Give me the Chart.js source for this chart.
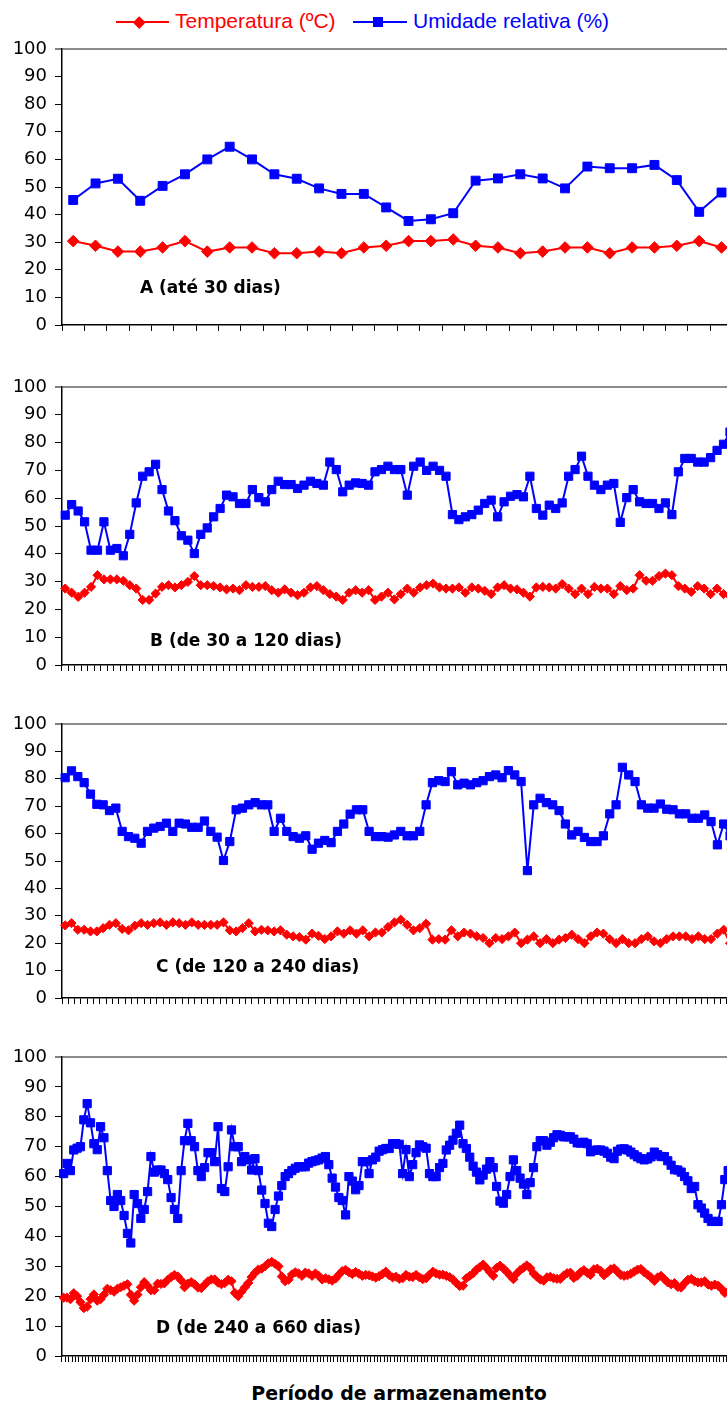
<!DOCTYPE html>
<html>
<head>
<meta charset="utf-8">
<script src="https://cdn.jsdelivr.net/npm/chart.js@4"></script>
<style>
html,body{margin:0;padding:0;width:727px;height:1405px;overflow:hidden;background:#fff;}
.panel{position:absolute;left:0;}
.lbl{position:absolute;font:bold 17px 'DejaVu Sans';line-height:20px;white-space:nowrap;color:#000;}
.leg{position:absolute;font:21px 'Liberation Sans',Arial;line-height:21px;white-space:nowrap;top:9.5px;}
.xt{position:absolute;left:0;width:798px;text-align:center;font:bold 19px 'DejaVu Sans';line-height:22px;top:1382px;color:#000;white-space:nowrap;}
</style>
</head>
<body>
<!-- legend -->
<div style="position:absolute;left:116px;top:21px;width:53px;height:2px;background:#ff0000"></div>
<div style="position:absolute;left:135px;top:17.5px;width:8.5px;height:8.5px;background:#ff0000;transform:rotate(45deg)"></div>
<div class="leg" style="left:175px;color:#ff0000">Temperatura (ºC)</div>
<div style="position:absolute;left:353px;top:21px;width:54px;height:2px;background:#0000ff"></div>
<div style="position:absolute;left:373px;top:17px;width:9.5px;height:9.5px;background:#0000ff"></div>
<div class="leg" style="left:413px;color:#0000ff">Umidade relativa (%)</div>

<div class="panel" style="top:37px;width:740px;height:300px"><canvas id="cA" width="740" height="300"></canvas></div>
<div class="panel" style="top:375px;width:740px;height:302px"><canvas id="cB" width="740" height="302"></canvas></div>
<div class="panel" style="top:712px;width:740px;height:298px"><canvas id="cC" width="740" height="298"></canvas></div>
<div class="panel" style="top:1045px;width:740px;height:323px"><canvas id="cD" width="740" height="323"></canvas></div>

<div class="lbl" style="left:140px;top:277px">A (até 30 dias)</div>
<div class="lbl" style="left:150px;top:630px">B (de 30 a 120 dias)</div>
<div class="lbl" style="left:156px;top:956px">C (de 120 a 240 dias)</div>
<div class="lbl" style="left:156px;top:1317px">D (de 240 a 660 dias)</div>

<div class="xt">Período de armazenamento</div>

<script>
// ---------- DATA ----------
const seriesNames = ['Temperatura (ºC)', 'Umidade relativa (%)'];
const yTicks = [0, 10, 20, 30, 40, 50, 60, 70, 80, 90, 100];

// A (até 30 dias)
const tempA = [30.4,28.7,26.6,26.6,28.1,30.4,26.6,28.1,28.1,26,26,26.6,26,28.1,28.7,30.4,30.4,31,28.7,28.1,26,26.6,28.1,28.1,26,28.1,28.1,28.7,30.4,28.1];
const umidA = [45.3,51.3,53,45,50.4,54.6,60,64.6,60,54.6,53,49.5,47.5,47.5,42.6,37.7,38.3,40.5,52.3,53.1,54.6,53.1,49.5,57.4,56.8,56.8,58,52.5,41,48];

// B (de 30 a 120 dias)
const tempB = [27.5,26,24.5,26,28.1,32.3,30.8,30.8,30.8,30.3,28.7,27.5,23.4,23.4,25.7,28.1,28.7,27.9,28.7,29.9,
  32,28.7,28.7,28.4,27.9,27.2,27.5,26.9,28.7,28.1,28.1,28.4,26.9,26,27.2,26,25.1,26,27.9,28.4,
  26.9,25.5,24.6,23.4,26,26.9,26,26.9,
  23.4,24.6,26,23.6,25.5,27.5,26,27.9,28.7,29.3,27.9,27.5,27.5,27.9,26,27.9,27.5,26.7,25.5,27.9,
  28.7,27.5,27.2,26,24.6,27.9,28.1,27.9,27.5,29.1,27.5,25.5,27.5,25.5,28.1,27.5,27.5,25.5,28.4,26.9,
  27.5,32.3,30.3,30.3,32,32.9,32.3,28.4,27.5,26.3,28.4,27.5,25.5,27.5,25.5,24.8];
const umidB = [53.9,57.7,55.4,51.5,41.3,41.3,51.5,41.3,41.9,39.3,47,58.3,67.9,69.5,72.2,63.1,55.4,51.9,46.5,44.9,
  40.1,47,49.3,53.3,56.3,61.1,60.5,58.1,58.1,63.1,60.2,58.7,63.1,66.1,64.9,64.9,63.5,64.7,66.1,65.3,
  64.7,73,70.3,62.3,64.7,65.5,65.3,64.7,
  69.5,70.3,71.5,70.3,70.3,61.1,71.5,73,70,71.5,70,67.9,54.1,52.3,53.3,54.1,55.7,58.1,59.3,53.3,
  58.7,60.7,61.3,60.5,67.9,56.3,53.9,57.5,56.3,58.3,67.9,70.3,75.1,67.9,64.7,63.1,64.7,65.3,51.3,60.2,
  63.1,58.7,58.1,58.1,56.3,58.3,54.1,69.5,74.3,74.3,73,73,74.6,77.2,79.4,83.8];

// C (de 120 a 240 dias)
const tempC = [26.5,27.3,24.9,24.9,24.3,24.3,25.5,26.7,27.3,25.2,24.7,26.4,27.3,26.7,27.3,27.6,26.7,27.6,27.3,26.7,
  27.6,26.7,26.7,26.7,26.7,27.6,24.7,24.3,25.5,27.3,24.3,24.9,24.7,24.3,24.7,23.1,22.5,22.2,21.3,23.5,
  22.7,21.5,22.5,24.3,23.5,24.7,23.5,24.7,22.5,
  23.9,23.9,25.9,27.6,28.6,26.7,24.7,25.5,27.1,21.3,21.5,21.3,24.7,22.5,23.9,23.5,22.5,21.9,20,
  21.9,21.5,22.5,23.9,20,21.3,22.5,20,21.5,20,21.3,21.9,23.1,21.5,20,22.5,23.9,23.5,21.5,20,
  21.5,20,20,21.5,22.5,20.7,20,21.5,22.5,22.5,22.5,21.5,22.5,21.5,21.5,23.5,24.9,20];
const umidC = [80.4,82.9,80.8,78.6,74.4,70.7,70.5,68.4,69.3,60.8,58.9,58.3,56.5,60.8,62,62.6,63.8,60.8,63.8,63.5,
  62.3,62.3,64.6,60.8,58.7,50.2,57.1,68.7,69.3,70.5,71.3,70.5,70.5,60.8,65.6,60.8,58.9,58.3,59.2,54.3,
  56.5,57.5,56.7,60.8,63.5,67.1,68.7,68.7,60.8,
  58.9,58.9,58.7,59.5,60.8,59.2,59.2,60.8,70.5,78.6,79.3,79,82.6,77.8,78.4,77.8,78.6,79.3,80.8,81.4,
  80.4,83,81.4,79,46.5,70.5,72.9,71.3,70.5,68.4,63.5,59.5,60.8,58.6,57.1,57.1,59.2,67.2,70.5,84.2,
  81.4,79,70.5,69.3,69.3,70.8,68.9,68.7,67.2,67.2,65.6,65.6,66.8,64.4,55.9,63.5,59.2];

// D (de 240 a 660 dias)
const tempD = [19.5,19.5,19,21,20,18,16,16.5,19,20.6, 18.5,19,20.5,22.5,22,21.5,22.5,23,23.5,24,
  20.5,18.5,20.5,23,24.7,23.5,22,22,24.2,24.1, 24.3,25.5,26.4,27.1,26.6,25.3,23,24.2,24.7,24,
  22.9,22.7,23.8,25,25.6,25.6,24.5,24,24.4,25.5, 25,21.1,20,21.5,23,24.4,26.4,27.8,28.9,29.2,
  30,31,31.5,30.8,30,26.6,25,25.5,27.3,28, 27.6,26.8,27.9,27.6,26.8,27.6,26.8,25.6,26,25.6,
  25.2,25.9,27.2,28.4,28.8,28,27.4,28.1,27.5,26.8, 27.1,27,26.6,26.2,26.7,27.4,28.2,27,26.3,26.5,
  25.8,26,27.1,26.5,26.4,27.1,26.3,25.7,26,27.2, 28.2,27.6,27.2,27.2,26.8,26.4,25.6,24.4,23.4,23.5,
  26,26.8,27.6,28.9,29.7,30.6,29.4,28.1,26.8,29.5, 30.2,29.3,28.2,26.9,25.7,27.6,28.7,29.5,30.3,29.4,
  27.6,26.5,25.6,25.2,26.3,26.5,26,25.8,25.8,26.9, 27.7,27.9,26.1,26.8,28,28.7,27.8,27.1,29,29.2,
  28.5,27,27.9,29,29.3,28.2,27.1,26.8,27,27.5, 28.2,28.9,29.1,28,27.2,26.3,25.1,26.3,26.8,25.7,
  24.6,24,24.4,23.1,22.9,24.3,25.5,25.8,25,24.6, 24.6,25,23.9,23.5,23.9,23.5,22.5,21.1,21.5,22];
const umidD = [61,64.4,62,68.9,69.5,70,79,84.4,78,71, 69,76.7,73,62,52,50,54,52,47,41,
  37.8,54,51,46,49,55,66.7,61.5,62.2,62.2, 61,59,53,49,46,62,72,77.8,72,70,
  62,60,63,68,68,65,76.7,56,55,63.3, 75.6,70,70,65,66.7,65.6,62.2,66,62,55.5,
  51,44.4,43.3,49,53.5,57,60,61,62,62.8, 63.3,63.3,63.3,64.5,65,65.3,65.6,66.2,66.7,64,
  59.5,56.5,53,52,47.2,60,58.5,55.6,57,65, 65,61,65.6,66.5,68.5,69,69.4,69.4,71,71,
  70.8,61,69,60,64,68,70.6,70,69.5,61, 60,60,63,64.4,68.9,70.5,72.2,74.5,77.2,71,
  69.4,66.5,63.5,61.5,58.9,60.5,62.5,65,63,56.7, 51.8,51.1,54,60,65.6,62,59.5,57.5,54,58,
  63,70,72,72,70.5,71.5,73,74,73.8,73.3, 73.3,73.3,72.5,71.3,71.2,71.5,71,68.3,68.8,68.9,
  68.9,68.5,67.8,66.5,66,68.5,69.2,69.3,68.9,68.2, 67.3,66.6,66,65.6,65.9,66.6,68.2,67.3,66.7,66.7,
  65.3,63.8,62.3,62.2,61.5,60,58.6,56,56.7,50.6, 49.5,47.8,46,45,45,45,50.6,59,62,63];

// ---------- CHARTS ----------
const RED = '#ff0000', BLUE = '#0000ff';

function makeChart(id, temp, umid, diamondR, squareR) {
  const cats = temp.map((_, i) => String(i + 1));
  return new Chart(document.getElementById(id), {
    type: 'line',
    data: {
      labels: cats,
      datasets: [
        { label: seriesNames[0], data: temp, borderColor: RED, backgroundColor: RED,
          borderWidth: 2, tension: 0, pointStyle: 'rectRot', pointRadius: diamondR,
          pointBackgroundColor: RED, pointBorderColor: RED, pointBorderWidth: 1 },
        { label: seriesNames[1], data: umid, borderColor: BLUE, backgroundColor: BLUE,
          borderWidth: 2, tension: 0, pointStyle: 'rect', pointRadius: squareR,
          pointBackgroundColor: BLUE, pointBorderColor: BLUE, pointBorderWidth: 1 }
      ]
    },
    options: {
      responsive: false,
      devicePixelRatio: 1,
      animation: false,
      events: [],
      layout: { padding: { top: 12, left: 0, right: 6, bottom: 0 } },
      plugins: { legend: { display: false }, tooltip: { enabled: false } },
      scales: {
        x: {
          type: 'category',
          offset: true,
          grid: { offset: true, drawOnChartArea: false, color: '#000', tickLength: 6, lineWidth: 1 },
          border: { color: '#000', width: 1.5 },
          ticks: { display: false, autoSkip: false },
          afterFit: s => { s.height = 12; s.paddingLeft = 0; s.paddingRight = 0; }
        },
        y: {
          min: 0, max: 100,
          afterBuildTicks: s => { s.ticks = yTicks.map(v => ({ value: v })); },
          grid: {
            drawOnChartArea: true,
            color: c => (c.tick && c.tick.value === 100) ? '#8c8c8c' : 'rgba(0,0,0,0)',
            lineWidth: c => (c.tick && c.tick.value === 100) ? 2 : 1,
            tickColor: '#000', tickWidth: 1, tickLength: 7
          },
          border: { color: '#000', width: 1.5 },
          ticks: { color: '#000', padding: 8, font: { family: 'DejaVu Sans', size: 18 } },
          afterFit: s => { s.width = 62; s.paddingTop = 0; s.paddingBottom = 0; }
        }
      }
    }
  });
}

makeChart('cA', tempA, umidA, 5.8, 6.3);
makeChart('cB', tempB, umidB, 4.6, 5.8);
makeChart('cC', tempC, umidC, 4.6, 5.8);
makeChart('cD', tempD, umidD, 4.6, 5.8);
</script>
</body>
</html>
